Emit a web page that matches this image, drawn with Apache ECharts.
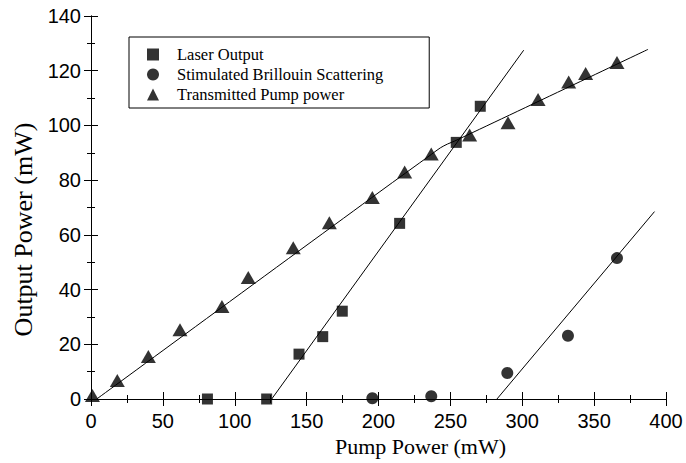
<!DOCTYPE html>
<html>
<head>
<meta charset="utf-8">
<script src="https://cdn.jsdelivr.net/npm/echarts@6/dist/echarts.min.js"></script>
<style>
  html, body { margin: 0; padding: 0; background: #fff; }
  #chart { width: 686px; height: 463px; }
</style>
</head>
<body>
<div id="chart"></div>
<script>
(function() {
  // measured points
  var laserX = [81, 122.2, 144.7, 161.2, 174.8, 214.7, 254.1, 270.8];
  var laserY = [0, 0, 16.4, 22.8, 32.1, 64.2, 93.8, 107];
  var sbsX = [195.7, 236.7, 289.6, 331.8, 365.9];
  var sbsY = [0.3, 1, 9.5, 23.1, 51.5];
  var pumpX = [1, 18.3, 39.9, 61.9, 91.1, 109.4, 140.7, 165.8, 195.7, 218.2, 236.7, 263.4, 290.1, 311, 332.3, 344.1, 365.9];
  var pumpY = [1.3, 6.8, 15.5, 25.3, 33.8, 44.4, 55.3, 64.4, 73.7, 83, 89.6, 96.5, 101, 109.5, 115.9, 119, 123];

  // fitted lines
  var laserFitX = [125.7, 301];
  var laserFitY = [0, 127.5];
  var sbsFitX = [282.4, 392];
  var sbsFitY = [0, 68.5];
  var pumpFitX = [4, 201, 237, 243, 248, 253, 387.5];
  var pumpFitY = [0, 75.8, 89.5, 91.8, 93.2, 94.3, 127.8];

  var names = ['Laser Output', 'Stimulated Brillouin Scattering', 'Transmitted Pump power'];

  function zip(xs, ys) {
    return xs.map(function(x, i) { return [x, ys[i]]; });
  }

  var serif = '"Liberation Serif", "Times New Roman", serif';
  var sans = '"Liberation Sans", Arial, sans-serif';
  var ink = '#000';

  var tickIn = { show: true, inside: true, length: 7, lineStyle: { color: ink, width: 1 } };
  var minorIn = { show: true, splitNumber: 2, length: 4, lineStyle: { color: ink, width: 1 } };

  var chart = echarts.init(document.getElementById('chart'), null, { renderer: 'svg' });
  chart.setOption({
    animation: false,
    backgroundColor: '#fff',
    grid: { left: 91, right: 20, top: 16, bottom: 64 },
    legend: {
      orient: 'vertical',
      left: 129, top: 37,
      data: names,
      itemWidth: 12, itemHeight: 12,
      itemGap: 3,
      padding: [9, 46, 5, 18],
      borderColor: ink, borderWidth: 1,
      textStyle: { fontFamily: serif, fontSize: 16.5, lineHeight: 16, color: ink, padding: [0, 0, 0, 13] }
    },
    xAxis: [
      {
        type: 'value', min: 0, max: 400, interval: 50,
        name: 'Pump Power (mW)', nameLocation: 'middle', nameGap: 35,
        nameTextStyle: { fontFamily: serif, fontSize: 22, color: ink, padding: [0, 0, 0, 84] },
        axisLine: { lineStyle: { color: ink, width: 1 } },
        axisTick: tickIn, minorTick: minorIn,
        axisLabel: { fontFamily: sans, fontSize: 20, color: ink, margin: 12 },
        splitLine: { show: false }
      },
      {
        type: 'value', min: 0, max: 400, interval: 50, position: 'top',
        axisLine: { show: true, lineStyle: { color: ink, width: 1 } },
        axisTick: tickIn, minorTick: minorIn,
        axisLabel: { show: false },
        splitLine: { show: false }
      }
    ],
    yAxis: [
      {
        type: 'value', min: 0, max: 140, interval: 20,
        name: 'Output Power (mW)', nameLocation: 'middle', nameGap: 53,
        nameTextStyle: { fontFamily: serif, fontSize: 26, color: ink, padding: [0, 44, 0, 0] },
        axisLine: { show: true, lineStyle: { color: ink, width: 1 } },
        axisTick: tickIn, minorTick: minorIn,
        axisLabel: { fontFamily: sans, fontSize: 20, color: ink, margin: 10 },
        splitLine: { show: false }
      },
      {
        type: 'value', min: 0, max: 140, interval: 20, position: 'right',
        axisLine: { show: true, lineStyle: { color: ink, width: 1 } },
        axisTick: tickIn, minorTick: minorIn,
        axisLabel: { show: false },
        splitLine: { show: false }
      }
    ],
    series: [
      {
        name: names[0], type: 'scatter', symbol: 'rect', symbolSize: 11,
        itemStyle: { color: ink }, data: zip(laserX, laserY), z: 5
      },
      {
        name: names[1], type: 'scatter', symbol: 'circle', symbolSize: 12,
        itemStyle: { color: ink }, data: zip(sbsX, sbsY), z: 5
      },
      {
        name: names[2], type: 'scatter', symbol: 'triangle', symbolSize: [15, 13],
        itemStyle: { color: ink }, data: zip(pumpX, pumpY), z: 5
      },
      {
        type: 'line', data: zip(laserFitX, laserFitY), showSymbol: false, symbol: 'none',
        lineStyle: { color: ink, width: 1 }, silent: true, z: 3
      },
      {
        type: 'line', data: zip(sbsFitX, sbsFitY), showSymbol: false, symbol: 'none',
        lineStyle: { color: ink, width: 1 }, silent: true, z: 3
      },
      {
        type: 'line', data: zip(pumpFitX, pumpFitY), showSymbol: false, symbol: 'none',
        smooth: 0.3, lineStyle: { color: ink, width: 1 }, silent: true, z: 3
      }
    ]
  });
  window.addEventListener('resize', function() { chart.resize(); });
})();
</script>
</body>
</html>
